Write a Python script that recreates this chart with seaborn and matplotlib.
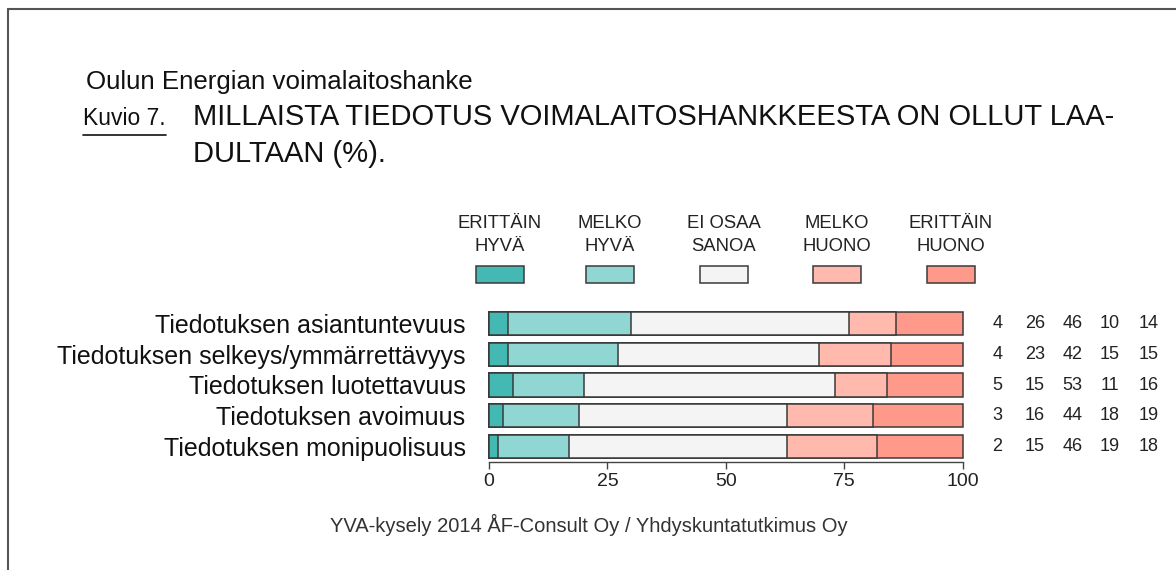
import matplotlib
matplotlib.use("Agg")
import matplotlib.pyplot as plt
from matplotlib.patches import Rectangle
from matplotlib.lines import Line2D
from matplotlib.transforms import blended_transform_factory
import seaborn as sns
import pandas as pd
import numpy as np

# data
items = ["Tiedotuksen asiantuntevuus",
         "Tiedotuksen selkeys/ymmärrettävyys",
         "Tiedotuksen luotettavuus",
         "Tiedotuksen avoimuus",
         "Tiedotuksen monipuolisuus"]
levels = ["ERITTÄIN\nHYVÄ", "MELKO\nHYVÄ", "EI OSAA\nSANOA", "MELKO\nHUONO", "ERITTÄIN\nHUONO"]
erittain_hyva = [4, 4, 5, 3, 2]
melko_hyva = [26, 23, 15, 16, 15]
ei_osaa = [46, 42, 53, 44, 46]
melko_huono = [10, 15, 11, 18, 19]
erittain_huono = [14, 15, 16, 19, 18]
colors = ["#44B9B3", "#90D7D3", "#F4F4F4", "#FFBAAD", "#FF9A8B"]

W, H = 1176, 570
sns.set_style("white")
plt.rcParams['font.family'] = ['Liberation Sans', 'DejaVu Sans']

fig = plt.figure(figsize=(W / 100, H / 100), dpi=100)

def fx(x):
    return x / W

def fy(y):
    return 1 - y / H

# axes placement (pixel based): 0 -> 489 px, 100 -> 962.5 px
ppu = (962.5 - 489) / 100
x0, x1 = -1, 101
ax_left = 489 + x0 * ppu
ax_w = (x1 - x0) * ppu
ax_top, ax_bot = 308, 462
ax = fig.add_axes([fx(ax_left), fy(ax_bot), fx(ax_w), (ax_bot - ax_top) / H])

series = [erittain_hyva, melko_hyva, ei_osaa, melko_huono, erittain_huono]
df = pd.DataFrame(np.array(series, dtype=float).T, columns=range(5))
# bars fill the full 100 % even when the rounded numbers do not sum to 100
shares = df.div(df.sum(axis=1), axis=0) * 100
cum = shares.cumsum(axis=1)

# stacked bars: draw cumulative widths from the outermost to the innermost
for k in range(4, -1, -1):
    layer = pd.DataFrame({"item": items, "cum": cum[k].values})
    sns.barplot(data=layer, x="cum", y="item", orient="h", color=colors[k],
                edgecolor="#3a3a3a", linewidth=1.1, width=0.75, saturation=1,
                ax=ax)

ax.set_xlim(x0, x1)
ax.set_ylim(4.5, -0.5)
ax.set_xlabel("")
ax.set_ylabel("")
for s in ["top", "right", "left"]:
    ax.spines[s].set_visible(False)
ax.spines["bottom"].set_bounds(0, 100)
ax.spines["bottom"].set_color("#444444")
ax.spines["bottom"].set_linewidth(1.0)
ax.set_xticks([0, 25, 50, 75, 100])
ax.tick_params(axis="x", bottom=True, length=5, width=1.0, color="#444444",
               labelsize=14, pad=3, labelcolor="#222222")
ax.tick_params(axis="y", left=False, labelsize=18, pad=10, labelcolor="#111111")

# value columns on the right
tr = blended_transform_factory(fig.transFigure, ax.transData)
col_x = [997.5, 1035, 1072.5, 1110, 1149]
for i in range(len(items)):
    for k in range(5):
        ax.text(fx(col_x[k]), i, str(series[k][i]), transform=tr, ha="center",
                va="center", fontsize=13, color="#222222")

# legend
leg_x = [500, 610, 724, 837, 951]
for k in range(5):
    top, bottom = levels[k].split("\n")
    fig.text(fx(leg_x[k]), fy(228), top, ha="center", va="baseline",
             fontsize=13.3, color="#222222")
    fig.text(fx(leg_x[k]), fy(251.5), bottom, ha="center", va="baseline",
             fontsize=13.3, color="#222222")
    fig.patches.append(Rectangle((fx(leg_x[k] - 24), fy(283)), fx(48), 17 / H,
                                 transform=fig.transFigure, facecolor=colors[k],
                                 edgecolor="#3a3a3a", linewidth=1.1))

# titles
fig.text(fx(86), fy(89), "Oulun Energian voimalaitoshanke", fontsize=18.6,
         va="baseline", color="#111111")
fig.text(fx(83), fy(125), "Kuvio 7.", fontsize=16.5, va="baseline", color="#111111")
fig.lines.append(Line2D([fx(83), fx(166)], [fy(135), fy(135)],
                        transform=fig.transFigure, color="#111111", linewidth=1.2))
fig.text(fx(193), fy(125), "MILLAISTA TIEDOTUS VOIMALAITOSHANKKEESTA ON OLLUT LAA-",
         fontsize=21, va="baseline", color="#111111")
fig.text(fx(193), fy(161.5), "DULTAAN (%).", fontsize=21, va="baseline",
         color="#111111")

# footer
fig.text(fx(589), fy(525), "YVA-kysely 2014 ÅF-Consult Oy / Yhdyskuntatutkimus Oy",
         ha="center", va="center", fontsize=14.5, color="#333333")

# page frame
fig.lines.append(Line2D([fx(8), fx(W)], [fy(9), fy(9)], transform=fig.transFigure,
                        color="#555555", linewidth=1.5))
fig.lines.append(Line2D([fx(8), fx(8)], [fy(9), fy(H)], transform=fig.transFigure,
                        color="#555555", linewidth=1.5))

fig.savefig("out.png", dpi=100)
